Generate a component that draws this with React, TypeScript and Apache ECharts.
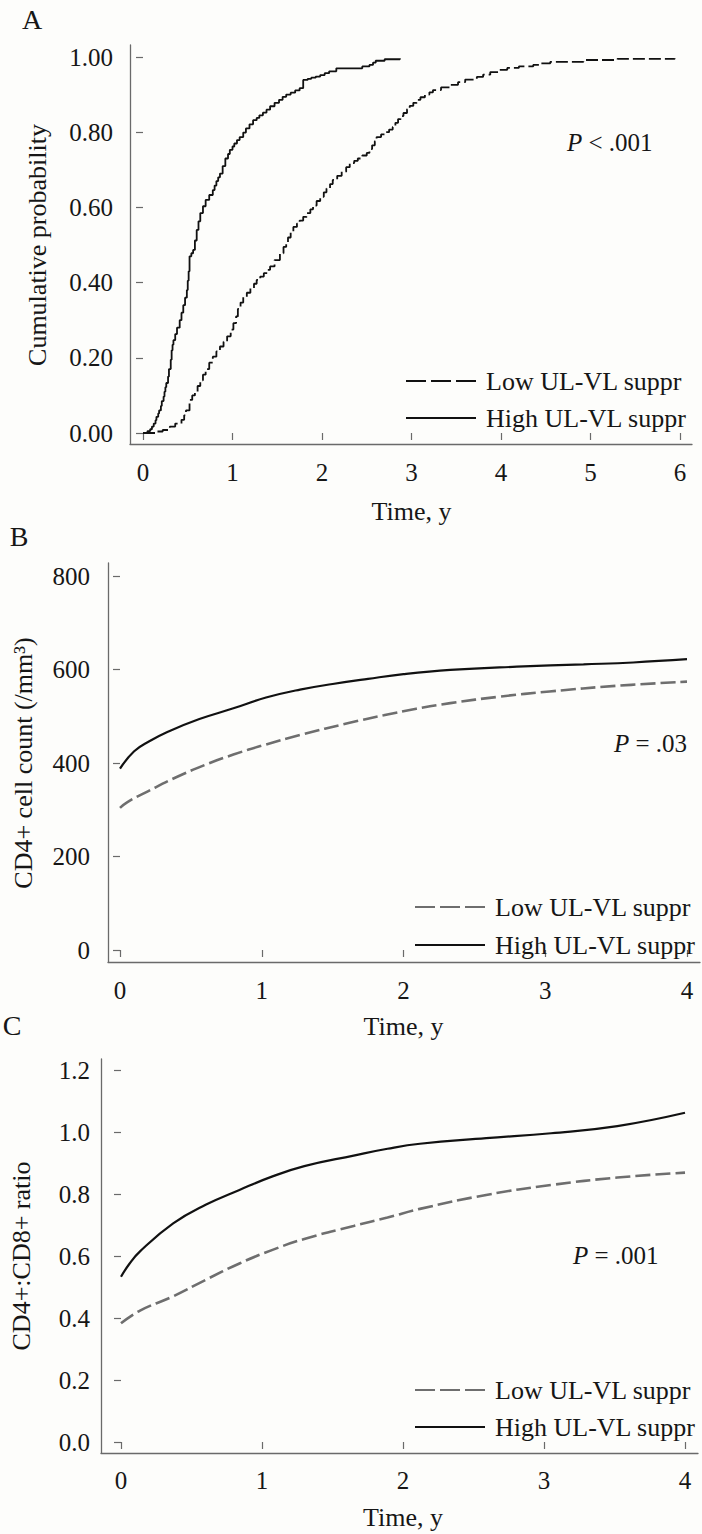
import React, { useEffect, useRef } from "react";
import * as echarts from "echarts";

const FONT = "Liberation Serif";
const TXT = "#161616";
const AX = "#6a6a6a";
const GRAY = "#6e6e6e";

// Panel A: cumulative probability (Kaplan-Meier style, step curves)
const lowA: [number, number][] = [
  [0, 0], [0.15, 0.004], [0.22, 0.008], [0.3, 0.017], [0.36, 0.025], [0.43, 0.035], [0.46, 0.047],
  [0.48, 0.06], [0.52, 0.088], [0.55, 0.1], [0.58, 0.11], [0.61, 0.125], [0.64, 0.14], [0.67, 0.155],
  [0.7, 0.17], [0.74, 0.187], [0.78, 0.203], [0.82, 0.217], [0.86, 0.23], [0.9, 0.243], [0.94, 0.257],
  [0.98, 0.275], [1.01, 0.292], [1.04, 0.31], [1.06, 0.33], [1.09, 0.347], [1.12, 0.362], [1.16, 0.373],
  [1.2, 0.385], [1.24, 0.397], [1.27, 0.407], [1.31, 0.416], [1.35, 0.425], [1.39, 0.434], [1.42, 0.443],
  [1.47, 0.46], [1.53, 0.478], [1.57, 0.495], [1.6, 0.508], [1.62, 0.52], [1.65, 0.535], [1.68, 0.548],
  [1.72, 0.557], [1.75, 0.565], [1.79, 0.575], [1.83, 0.585], [1.87, 0.595], [1.9, 0.605], [1.94, 0.617],
  [1.98, 0.628], [2.02, 0.64], [2.05, 0.65], [2.09, 0.662], [2.12, 0.673], [2.17, 0.684], [2.22, 0.695],
  [2.27, 0.707], [2.31, 0.718], [2.36, 0.724], [2.4, 0.73], [2.45, 0.738], [2.5, 0.745], [2.53, 0.755],
  [2.56, 0.765], [2.59, 0.776], [2.61, 0.787], [2.66, 0.794], [2.7, 0.8], [2.75, 0.807], [2.79, 0.814],
  [2.82, 0.825], [2.85, 0.835], [2.88, 0.843], [2.91, 0.851], [2.95, 0.861], [2.98, 0.87], [3.02, 0.878],
  [3.06, 0.886], [3.1, 0.893], [3.15, 0.9], [3.2, 0.906], [3.24, 0.912], [3.33, 0.919], [3.43, 0.926],
  [3.52, 0.933], [3.6, 0.94], [3.73, 0.947], [3.8, 0.953], [3.88, 0.96], [3.97, 0.966], [4.07, 0.971],
  [4.2, 0.975], [4.36, 0.979], [4.45, 0.983], [4.55, 0.987], [4.92, 0.992], [5.3, 0.995], [5.94, 0.997],
];
const highA: [number, number][] = [
  [0, 0], [0.05, 0.005], [0.08, 0.01], [0.1, 0.017], [0.12, 0.025], [0.14, 0.034], [0.15, 0.043],
  [0.17, 0.052], [0.18, 0.06], [0.2, 0.072], [0.21, 0.085], [0.23, 0.097], [0.24, 0.11], [0.25, 0.122],
  [0.26, 0.133], [0.28, 0.15], [0.29, 0.17], [0.31, 0.195], [0.32, 0.22], [0.33, 0.235], [0.34, 0.247],
  [0.36, 0.263], [0.38, 0.28], [0.41, 0.3], [0.43, 0.32], [0.45, 0.34], [0.47, 0.36], [0.49, 0.38],
  [0.5, 0.405], [0.51, 0.43], [0.52, 0.47], [0.54, 0.478], [0.56, 0.487], [0.58, 0.512], [0.6, 0.54],
  [0.62, 0.563], [0.64, 0.585], [0.67, 0.603], [0.7, 0.62], [0.74, 0.633], [0.78, 0.646], [0.8, 0.658],
  [0.82, 0.67], [0.84, 0.68], [0.86, 0.69], [0.89, 0.71], [0.92, 0.73], [0.95, 0.742], [0.97, 0.753],
  [1.0, 0.762], [1.02, 0.77], [1.05, 0.779], [1.08, 0.787], [1.12, 0.799], [1.15, 0.81], [1.19, 0.821],
  [1.23, 0.832], [1.27, 0.838], [1.3, 0.845], [1.34, 0.852], [1.38, 0.86], [1.42, 0.869], [1.47, 0.878],
  [1.52, 0.886], [1.56, 0.894], [1.6, 0.9], [1.65, 0.905], [1.7, 0.911], [1.75, 0.917], [1.79, 0.939],
  [1.84, 0.942], [1.88, 0.945], [1.93, 0.948], [1.98, 0.952], [2.03, 0.957], [2.08, 0.962], [2.16, 0.97],
  [2.31, 0.97], [2.45, 0.975], [2.53, 0.979], [2.57, 0.985], [2.6, 0.99], [2.7, 0.994], [2.87, 0.997],
];

// Panel B: CD4+ cell count
const lowB: [number, number][] = [
  [0, 304], [0.05, 316], [0.2, 340], [0.4, 370], [0.6, 396], [0.8, 418], [1.0, 437], [1.27, 460],
  [1.62, 486], [1.86, 502], [2.09, 516], [2.33, 528], [2.68, 542], [3.03, 553], [3.5, 565], [4.0, 574],
];
const highB: [number, number][] = [
  [0, 388], [0.1, 425], [0.21, 447], [0.33, 466], [0.56, 494], [0.8, 517], [1.03, 540], [1.27, 557],
  [1.5, 569], [1.75, 580], [2.0, 590], [2.33, 599], [2.8, 606], [3.27, 611], [3.62, 615], [4.0, 622],
];

// Panel C: CD4+:CD8+ ratio
const lowC: [number, number][] = [
  [0, 0.383], [0.135, 0.424], [0.37, 0.47], [0.6, 0.523], [0.84, 0.576], [1.07, 0.619], [1.3, 0.655],
  [1.65, 0.697], [1.89, 0.724], [2.12, 0.752], [2.59, 0.797], [3.05, 0.829], [3.52, 0.853], [4.0, 0.869],
];
const highC: [number, number][] = [
  [0, 0.533], [0.06, 0.575], [0.135, 0.615], [0.37, 0.705], [0.6, 0.765], [0.84, 0.813], [1.07, 0.856],
  [1.3, 0.89], [1.65, 0.924], [1.89, 0.946], [2.12, 0.962], [2.59, 0.98], [3.05, 0.996], [3.52, 1.019],
  [4.0, 1.062],
];

const LOW = "Low UL-VL suppr";
const HIGH = "High UL-VL suppr";

function dataX(gridIndex: number, max: number, offset: number, margin: number, nameGap: number) {
  return {
    type: "value", gridIndex, min: 0, max, interval: 1, offset,
    axisLine: { show: false },
    axisTick: { show: true, length: 7, lineStyle: { color: AX, width: 1.2 } },
    axisLabel: { fontSize: 25, fontFamily: FONT, color: TXT, margin },
    splitLine: { show: false },
    name: "Time, y", nameLocation: "middle", nameGap,
    nameTextStyle: { fontSize: 26, fontFamily: FONT, color: TXT },
  };
}
function dataY(gridIndex: number, max: number, interval: number, offset: number, margin: number,
  name: string, nameGap: number, digits: number) {
  return {
    type: "value", gridIndex, min: 0, max, interval, offset,
    axisLine: { show: false },
    axisTick: { show: true, length: 7, lineStyle: { color: AX, width: 1.2 } },
    axisLabel: {
      fontSize: 25, fontFamily: FONT, color: TXT, margin,
      formatter: (v: number) => (digits >= 0 ? v.toFixed(digits) : String(v)),
    },
    splitLine: { show: false },
    name, nameLocation: "middle", nameGap, nameRotate: 90,
    nameTextStyle: { fontSize: 26, fontFamily: FONT, color: TXT },
  };
}
function frame(gridIndex: number) {
  return {
    type: "value", gridIndex, min: 0, max: 1,
    axisLine: { show: true, lineStyle: { color: AX, width: 1.3 } },
    axisTick: { show: false }, axisLabel: { show: false }, splitLine: { show: false },
  };
}
function legendFor(panel: string, left: number, top: number, gap: number, lowColor: string) {
  return {
    orient: "vertical", left, top, itemWidth: 70, itemHeight: 14, itemGap: gap,
    selectedMode: false,
    itemStyle: { opacity: 0 },
    formatter: (n: string) => n.split("|")[0],
    textStyle: { fontSize: 26, fontFamily: FONT, color: TXT, padding: [0, 0, 0, 5] },
    data: [
      { name: `${LOW}|${panel}`, itemStyle: { opacity: 0 }, lineStyle: { type: [20, 5], width: 2, color: lowColor } },
      { name: `${HIGH}|${panel}`, itemStyle: { opacity: 0 }, lineStyle: { width: 2, color: "#111" } },
    ],
  };
}
function ptext(x: number, y: number, rest: string, align: string) {
  return {
    type: "text", x, y,
    style: {
      text: `{i|P}${rest}`, fill: TXT, fontSize: 25, fontFamily: FONT, align, verticalAlign: "middle",
      rich: { i: { fontStyle: "italic", fontSize: 25, fontFamily: FONT, fill: TXT } },
    },
  };
}
function letter(x: number, y: number, t: string) {
  return {
    type: "text", x, y,
    style: { text: t, fill: TXT, fontSize: 28, fontFamily: FONT, align: "center", verticalAlign: "middle" },
  };
}
function lineSeries(name: string, idx: number, data: [number, number][], color: string, width: number,
  dashed: number[] | null, step: boolean) {
  return {
    name, type: "line", xAxisIndex: idx, yAxisIndex: idx, data, symbol: "none",
    step: step ? "end" : false, smooth: step ? false : 0.45,
    itemStyle: { color },
    lineStyle: { color, width, type: dashed || "solid" },
  };
}

export default function App() {
  const ref = useRef<HTMLDivElement>(null);
  useEffect(() => {
    const chart = echarts.init(ref.current as HTMLDivElement, null, { renderer: "svg" });
    const option: any = {
      animation: false,
      backgroundColor: "#fdfdfb",
      textStyle: { fontFamily: FONT },
      grid: [
        { left: 143, width: 537, top: 57, height: 376 },
        { left: 130, width: 562, top: 45, height: 399 },
        { left: 120, width: 567, top: 576, height: 374 },
        { left: 108, width: 592, top: 563, height: 399 },
        { left: 114, width: 571, top: 1070, height: 372 },
        { left: 101, width: 597, top: 1059, height: 394 },
      ],
      xAxis: [
        dataX(0, 6, 11, 16, 54), frame(1),
        dataX(2, 4, 12, 16, 51), frame(3),
        dataX(4, 4, 11, 15, 51), frame(5),
      ],
      yAxis: [
        dataY(0, 1, 0.2, 13, 17, "Cumulative probability", 80, 2), frame(1),
        dataY(2, 800, 200, 12, 18, "CD4+ cell count (/mm³)", 72, -1), frame(3),
        dataY(4, 1.2, 0.2, 13, 18, "CD4+:CD8+ ratio", 74, 1), frame(5),
      ],
      legend: [
        legendFor("A", 400, 363, 11, "#111"),
        legendFor("B", 409, 889, 12, GRAY),
        legendFor("C", 409, 1372, 11, GRAY),
      ],
      series: [
        lineSeries(`${LOW}|A`, 0, lowA, "#111", 1.8, [12, 4], true),
        lineSeries(`${HIGH}|A`, 0, highA, "#111", 1.8, null, true),
        lineSeries(`${LOW}|B`, 2, lowB, GRAY, 2.6, [15, 5], false),
        lineSeries(`${HIGH}|B`, 2, highB, "#111", 2.2, null, false),
        lineSeries(`${LOW}|C`, 4, lowC, GRAY, 2.6, [15, 5], false),
        lineSeries(`${HIGH}|C`, 4, highC, "#111", 2.2, null, false),
      ],
      graphic: [
        letter(32, 19, "A"),
        letter(19, 536, "B"),
        letter(12, 1025, "C"),
        ptext(567, 142, " < .001", "left"),
        ptext(687, 743, " = .03", "right"),
        ptext(573, 1255, " = .001", "left"),
      ],
    };
    chart.setOption(option);
    return () => chart.dispose();
  }, []);
  return (
    <div
      ref={ref}
      style={{ position: "absolute", left: 0, top: 0, width: 702, height: 1534 }}
    />
  );
}
